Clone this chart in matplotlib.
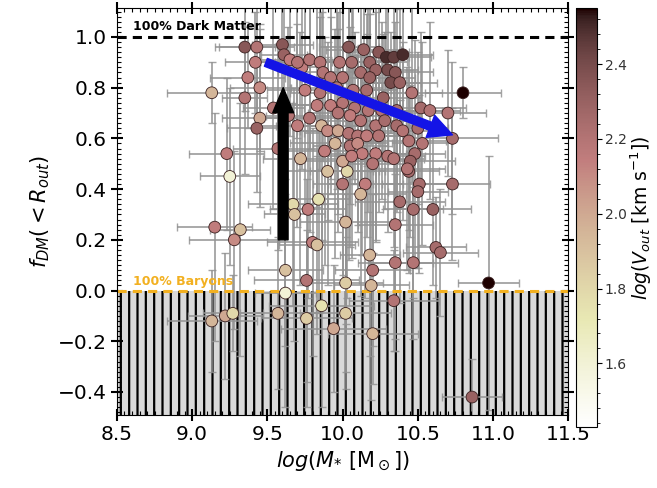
import matplotlib
matplotlib.use("Agg")
import matplotlib.pyplot as plt
from matplotlib.ticker import AutoMinorLocator

# log stellar mass, dark-matter fraction, log outer velocity, errors
log_mstar = [
    9.35, 9.43, 9.60, 9.61, 9.42, 9.37, 9.45, 9.13, 9.35, 9.54,
    9.45, 9.43, 9.64, 9.23, 9.57, 9.25, 9.15, 9.32, 9.28, 9.62,
    9.62, 9.67, 9.68, 9.77, 9.84, 9.72, 9.65, 9.73, 9.13, 9.22,
    9.27, 9.57, 9.76, 9.86, 10.02, 9.94, 10.20, 10.34, 10.86, 10.97,
    9.76, 10.02, 10.19, 10.20, 10.18, 10.35, 10.47, 10.62, 10.65, 9.80,
    9.83, 10.02, 10.35, 10.44, 10.51, 10.50, 10.73, 10.38, 10.47, 10.60,
    9.90, 10.03, 10.00, 10.15, 10.12,
    9.70, 9.78, 9.85, 10.04, 10.14, 10.24, 10.29, 10.34, 9.98, 10.06,
    10.18, 10.22, 10.30, 10.35, 9.87, 9.92, 10.00, 10.12, 10.18, 9.75,
    9.85, 9.96, 10.07, 10.16, 10.27, 10.32, 9.83, 9.92, 10.00, 10.08,
    10.17, 10.26, 9.78, 9.97, 10.05, 10.12, 10.22, 10.28, 10.36, 9.70,
    9.86, 9.90, 9.97, 10.04, 10.10, 10.16, 10.24, 9.95, 10.05, 10.10,
    9.88, 10.13, 10.22, 10.30, 10.00, 10.06, 10.20,
    10.40, 10.38, 10.46, 10.80, 10.52, 10.58, 10.70, 10.36, 10.50, 10.40,
    10.73, 10.53, 10.44, 10.48, 10.45, 10.43, 10.34,
]
f_dm = [
    0.96, 0.96, 0.97, 0.93, 0.90, 0.84, 0.80, 0.78, 0.76, 0.72,
    0.68, 0.64, 0.69, 0.54, 0.56, 0.45, 0.25, 0.24, 0.20, 0.08,
    -0.01, 0.34, 0.30, 0.32, 0.36, 0.52, 0.91, 0.88, -0.12, -0.10,
    -0.09, -0.09, -0.11, -0.06, -0.09, -0.15, -0.17, -0.04, -0.42, 0.03,
    0.04, 0.03, 0.02, 0.08, 0.14, 0.11, 0.11, 0.17, 0.15, 0.19,
    0.18, 0.27, 0.26, 0.47, 0.42, 0.39, 0.42, 0.35, 0.32, 0.32,
    0.47, 0.47, 0.42, 0.42, 0.38,
    0.90, 0.91, 0.90, 0.96, 0.95, 0.94, 0.92, 0.92, 0.90, 0.90,
    0.90, 0.87, 0.87, 0.86, 0.86, 0.84, 0.84, 0.86, 0.84, 0.79,
    0.78, 0.80, 0.79, 0.79, 0.76, 0.82, 0.73, 0.73, 0.74, 0.72,
    0.71, 0.71, 0.68, 0.70, 0.69, 0.67, 0.65, 0.67, 0.65, 0.65,
    0.65, 0.63, 0.63, 0.62, 0.61, 0.61, 0.61, 0.58, 0.57, 0.58,
    0.55, 0.54, 0.54, 0.53, 0.51, 0.53, 0.50,
    0.93, 0.82, 0.78, 0.78, 0.72, 0.71, 0.70, 0.71, 0.64, 0.63,
    0.60, 0.58, 0.59, 0.54, 0.51, 0.48, 0.52,
]
log_vout = [
    2.35, 2.20, 2.35, 2.30, 2.15, 2.15, 2.10, 1.95, 2.20, 2.20,
    2.00, 2.30, 2.20, 2.15, 2.20, 1.60, 2.15, 1.90, 2.10, 1.90,
    1.60, 1.80, 1.90, 2.15, 1.75, 1.95, 2.15, 2.15, 1.95, 2.00,
    1.80, 1.95, 1.85, 1.75, 1.85, 2.00, 1.95, 2.20, 2.30, 2.55,
    2.20, 1.85, 1.95, 2.20, 1.95, 2.20, 2.20, 2.25, 2.25, 2.15,
    1.90, 1.95, 2.20, 2.25, 2.25, 2.25, 2.25, 2.25, 2.25, 2.30,
    1.90, 1.80, 2.20, 2.15, 1.95,
    2.20, 2.20, 2.20, 2.35, 2.30, 2.35, 2.50, 2.45, 2.20, 2.25,
    2.30, 2.30, 2.40, 2.35, 2.20, 2.20, 2.20, 2.25, 2.30, 2.15,
    2.20, 2.20, 2.20, 2.25, 2.30, 2.40, 2.15, 2.15, 2.20, 2.20,
    2.20, 2.20, 2.20, 2.20, 2.15, 2.20, 2.20, 2.25, 2.25, 2.15,
    1.95, 2.10, 2.00, 2.20, 2.20, 2.15, 2.20, 1.95, 2.20, 2.10,
    2.15, 2.15, 2.15, 2.20, 2.00, 2.15, 2.20,
    2.50, 2.30, 2.20, 2.55, 2.25, 2.20, 2.20, 2.25, 2.25, 2.20,
    2.25, 2.20, 2.20, 2.25, 2.30, 2.20, 2.20,
]
mstar_err = [
    0.20, 0.25, 0.20, 0.15, 0.20, 0.25, 0.20, 0.30, 0.15, 0.20,
    0.25, 0.20, 0.15, 0.25, 0.30, 0.20, 0.25, 0.20, 0.30, 0.25,
    0.20, 0.30, 0.20, 0.25, 0.20, 0.25, 0.20, 0.15, 0.30, 0.25,
    0.20, 0.25, 0.30, 0.35, 0.30, 0.35, 0.30, 0.30, 0.20, 0.20,
    0.35, 0.25, 0.25, 0.25, 0.20, 0.25, 0.30, 0.20, 0.25, 0.30,
    0.25, 0.30, 0.25, 0.20, 0.25, 0.20, 0.25, 0.30, 0.20, 0.25,
    0.30, 0.25, 0.20, 0.25, 0.30,
    0.25, 0.20, 0.30, 0.20, 0.25, 0.20, 0.15, 0.25, 0.30, 0.20,
    0.25, 0.15, 0.20, 0.25, 0.30, 0.20, 0.25, 0.20, 0.30, 0.25,
    0.20, 0.30, 0.25, 0.20, 0.25, 0.20, 0.30, 0.25, 0.20, 0.30,
    0.20, 0.25, 0.30, 0.20, 0.25, 0.30, 0.20, 0.25, 0.20, 0.25,
    0.30, 0.20, 0.25, 0.30, 0.20, 0.25, 0.20, 0.30, 0.25, 0.20,
    0.25, 0.30, 0.20, 0.25, 0.30, 0.20, 0.25,
    0.20, 0.25, 0.20, 0.25, 0.30, 0.20, 0.25, 0.30, 0.20, 0.25,
    0.30, 0.20, 0.25, 0.20, 0.30, 0.25, 0.20,
]
fdm_err = [
    0.25, 0.30, 0.35, 0.30, 0.20, 0.20, 0.25, 0.12, 0.30, 0.40,
    0.35, 0.25, 0.35, 0.30, 0.40, 0.35, 0.45, 0.50, 0.35, 0.30,
    0.45, 0.40, 0.50, 0.35, 0.45, 0.50, 0.30, 0.40, 0.20, 0.25,
    0.15, 0.30, 0.35, 0.40, 0.30, 0.25, 0.20, 0.20, 0.15, 0.50,
    0.40, 0.35, 0.45, 0.30, 0.40, 0.35, 0.30, 0.20, 0.25, 0.45,
    0.35, 0.40, 0.45, 0.40, 0.35, 0.30, 0.30, 0.40, 0.35, 0.30,
    0.45, 0.50, 0.40, 0.45, 0.40,
    0.30, 0.35, 0.25, 0.40, 0.30, 0.35, 0.20, 0.25, 0.40, 0.30,
    0.35, 0.25, 0.30, 0.20, 0.35, 0.40, 0.30, 0.35, 0.25, 0.45,
    0.30, 0.40, 0.35, 0.30, 0.25, 0.20, 0.40, 0.35, 0.45, 0.30,
    0.40, 0.35, 0.45, 0.40, 0.35, 0.30, 0.45, 0.35, 0.30, 0.40,
    0.45, 0.35, 0.40, 0.50, 0.35, 0.40, 0.30, 0.45, 0.40, 0.35,
    0.45, 0.40, 0.35, 0.30, 0.45, 0.40, 0.35,
    0.25, 0.30, 0.35, 0.10, 0.30, 0.35, 0.25, 0.40, 0.30, 0.35,
    0.30, 0.40, 0.35, 0.45, 0.30, 0.40, 0.35,
]

plt.rcParams["hatch.linewidth"] = 1.6
plt.rcParams["hatch.color"] = "k"

fig = plt.figure(figsize=(6.57, 4.88), dpi=100)
ax = fig.add_axes([0.178, 0.15, 0.687, 0.834])

# forbidden region below zero
ax.fill_between([8.5, 11.5], -0.6, 0.0, facecolor="#d9d9d9", edgecolor="k",
                hatch="||", linewidth=0, zorder=0.5)

ax.errorbar(log_mstar, f_dm, xerr=mstar_err, yerr=fdm_err, fmt="none",
            ecolor="#939393", elinewidth=1.3, capsize=3, alpha=0.85, zorder=1)

ax.axhline(1.0, color="k", lw=2.2, dashes=(3, 2), zorder=2)
ax.axhline(0.0, color="#f2b020", lw=2.2, dashes=(3, 2), zorder=2)

sc = ax.scatter(log_mstar, f_dm, c=log_vout, cmap="pink_r", vmin=1.43, vmax=2.55,
                s=72, edgecolors="#3a2020", linewidths=0.6, zorder=3)

ax.text(8.61, 1.04, "100% Dark Matter", fontsize=9, fontweight="bold",
        va="center", ha="left", zorder=4)
ax.text(8.61, 0.035, "100% Baryons", fontsize=9, fontweight="bold",
        color="#f2b020", va="center", ha="left", zorder=2.5)

ax.annotate("", xy=(10.73, 0.614), xytext=(9.49, 0.90),
            arrowprops=dict(facecolor="#1414e6", edgecolor="#1414e6",
                            width=6, headwidth=17, headlength=17), zorder=5)
ax.annotate("", xy=(9.605, 0.80), xytext=(9.605, 0.20),
            arrowprops=dict(facecolor="k", edgecolor="k",
                            width=7, headwidth=15, headlength=18), zorder=5)

ax.set_xlim(8.5, 11.5)
ax.set_ylim(-0.49, 1.115)
ax.set_xticks([8.5, 9.0, 9.5, 10.0, 10.5, 11.0, 11.5])
ax.set_yticks([-0.4, -0.2, 0.0, 0.2, 0.4, 0.6, 0.8, 1.0])
ax.xaxis.set_minor_locator(AutoMinorLocator(10))
ax.yaxis.set_minor_locator(AutoMinorLocator(10))
ax.tick_params(which="major", direction="inout", length=8, width=1.5,
               labelsize=14.5, top=True, right=True)
ax.tick_params(which="minor", direction="in", length=3, width=0.8,
               top=True, right=True)
ax.set_xlabel(r"$log(M_{*}\ [\mathrm{M}_\odot])$", fontsize=15)
ax.set_ylabel(r"$f_{DM}(<R_{out})$", fontsize=15)

cax = fig.add_axes([0.877, 0.125, 0.032, 0.8586])
cb = fig.colorbar(sc, cax=cax)
cb.set_ticks([1.6, 1.8, 2.0, 2.2, 2.4])
cb.ax.yaxis.set_minor_locator(AutoMinorLocator(5))
cb.ax.tick_params(labelsize=10, labelcolor="#333333", pad=2)
cb.set_label(r"$log(V_{out}\ [\mathrm{km\ s^{-1}}])$", fontsize=13.5)
cb.ax.yaxis.set_label_coords(2.5, 0.5)

fig.savefig("out.png", dpi=100)
